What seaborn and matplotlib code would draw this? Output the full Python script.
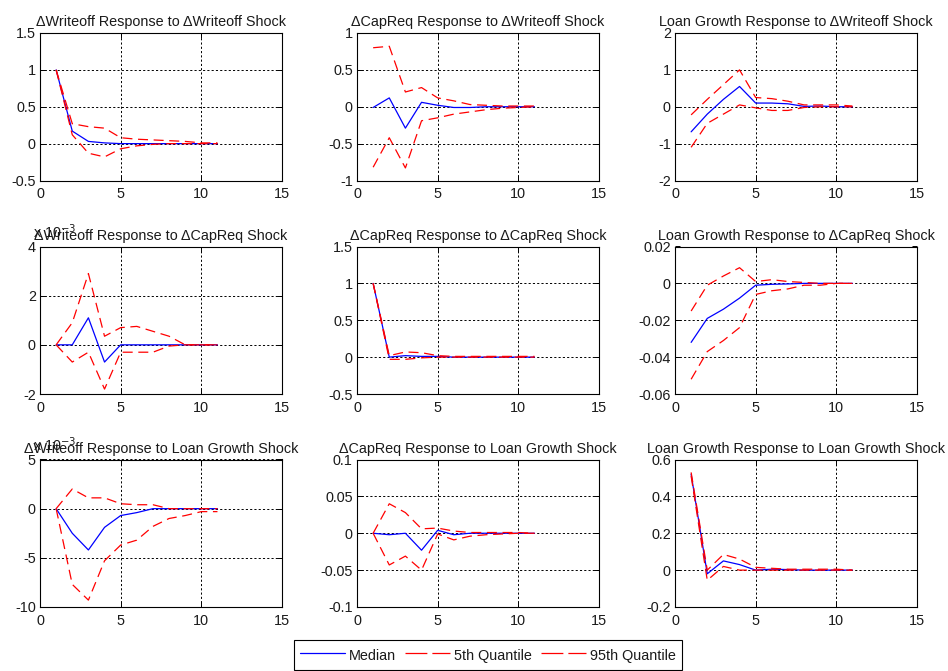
import matplotlib
matplotlib.use("Agg")
import matplotlib.pyplot as plt
from matplotlib.lines import Line2D
from matplotlib.ticker import FuncFormatter, MultipleLocator
import numpy as np
import pandas as pd
import seaborn as sns

# ---------------- data ----------------
periods = [1, 2, 3, 4, 5, 6, 7, 8, 9, 10, 11]

# Row 1: response to ΔWriteoff shock
wo_wo_med = [1.0, 0.17, 0.03, 0.01, 0.0, 0.0, 0.0, 0.0, 0.0, 0.0, 0.0]
wo_wo_lo = [1.0, 0.12, -0.13, -0.18, -0.07, -0.03, -0.01, 0.0, 0.0, 0.0, 0.0]
wo_wo_hi = [1.0, 0.27, 0.23, 0.21, 0.08, 0.06, 0.05, 0.04, 0.03, 0.01, 0.01]

cr_wo_med = [-0.01, 0.12, -0.29, 0.06, 0.02, -0.01, -0.01, 0.0, 0.0, 0.0, 0.0]
cr_wo_lo = [-0.82, -0.42, -0.83, -0.19, -0.15, -0.10, -0.07, -0.04, -0.02, -0.01, 0.0]
cr_wo_hi = [0.80, 0.82, 0.20, 0.26, 0.12, 0.08, 0.03, 0.02, 0.01, 0.01, 0.01]

lg_wo_med = [-0.68, -0.20, 0.20, 0.55, 0.10, 0.10, 0.08, 0.01, 0.02, 0.0, 0.0]
lg_wo_lo = [-1.10, -0.45, -0.20, 0.05, -0.03, -0.10, -0.10, -0.02, 0.0, 0.0, 0.0]
lg_wo_hi = [-0.22, 0.20, 0.60, 1.00, 0.25, 0.22, 0.15, 0.05, 0.05, 0.05, 0.02]

# Row 2: response to ΔCapReq shock
wo_cr_med = [0.0, 0.0, 0.0011, -0.0007, 0.0, 0.0, 0.0, 0.0, 0.0, 0.0, 0.0]
wo_cr_lo = [0.0, -0.0007, -0.0003, -0.0018, -0.0003, -0.0003, -0.0003, -0.00005, 0.0, 0.0, 0.0]
wo_cr_hi = [0.0, 0.0009, 0.0029, 0.00035, 0.0007, 0.00075, 0.00055, 0.00035, 0.0, 0.0, 0.0]

cr_cr_med = [1.0, 0.0, 0.02, 0.01, 0.01, 0.0, 0.0, 0.0, 0.0, 0.0, 0.0]
cr_cr_lo = [1.0, -0.03, -0.03, -0.01, 0.0, 0.0, 0.0, 0.0, 0.0, 0.0, 0.0]
cr_cr_hi = [1.0, 0.02, 0.07, 0.06, 0.02, 0.01, 0.01, 0.01, 0.01, 0.01, 0.01]

lg_cr_med = [-0.032, -0.019, -0.014, -0.008, -0.001, -0.0005, -0.0003, 0.0, 0.0, 0.0, 0.0]
lg_cr_lo = [-0.052, -0.037, -0.031, -0.024, -0.006, -0.004, -0.003, -0.001, -0.001, 0.0, 0.0]
lg_cr_hi = [-0.015, -0.001, 0.004, 0.0085, 0.001, 0.002, 0.001, 0.0005, 0.0, 0.0, 0.0]

# Row 3: response to Loan Growth shock
wo_lg_med = [0.0, -0.0025, -0.0042, -0.0019, -0.0007, -0.0004, 0.0, 0.0, 0.0, 0.0, 0.0]
wo_lg_lo = [0.0, -0.0077, -0.0093, -0.0053, -0.0037, -0.0032, -0.0018, -0.0010, -0.0007, -0.0003, -0.0003]
wo_lg_hi = [0.0, 0.0020, 0.0011, 0.0011, 0.0005, 0.0004, 0.0004, 0.0, 0.0, 0.0, 0.0]

cr_lg_med = [0.0, -0.002, 0.0, -0.023, 0.004, -0.002, 0.0, 0.0, 0.0, 0.0, 0.0]
cr_lg_lo = [0.0, -0.043, -0.031, -0.050, -0.001, -0.009, -0.004, -0.002, -0.001, 0.0, 0.0]
cr_lg_hi = [0.0, 0.040, 0.028, 0.006, 0.007, 0.003, 0.001, 0.001, 0.001, 0.001, 0.0]

lg_lg_med = [0.52, -0.02, 0.05, 0.03, 0.0, 0.005, 0.003, 0.0, 0.0, 0.0, 0.0]
lg_lg_lo = [0.51, -0.055, 0.02, 0.0, 0.0, 0.0, 0.0, 0.0, 0.0, 0.0, 0.0]
lg_lg_hi = [0.53, 0.0, 0.085, 0.06, 0.015, 0.01, 0.005, 0.005, 0.005, 0.005, 0.0]

titles = [
    ["\u0394Writeoff Response to \u0394Writeoff Shock",
     "\u0394CapReq Response to \u0394Writeoff Shock",
     "Loan Growth Response to \u0394Writeoff Shock"],
    ["\u0394Writeoff Response to \u0394CapReq Shock",
     "\u0394CapReq Response to \u0394CapReq Shock",
     "Loan Growth Response to \u0394CapReq Shock"],
    ["\u0394Writeoff Response to Loan Growth Shock",
     "\u0394CapReq Response to Loan Growth Shock",
     "Loan Growth Response to Loan Growth Shock"],
]

series = [
    [(wo_wo_med, wo_wo_lo, wo_wo_hi), (cr_wo_med, cr_wo_lo, cr_wo_hi), (lg_wo_med, lg_wo_lo, lg_wo_hi)],
    [(wo_cr_med, wo_cr_lo, wo_cr_hi), (cr_cr_med, cr_cr_lo, cr_cr_hi), (lg_cr_med, lg_cr_lo, lg_cr_hi)],
    [(wo_lg_med, wo_lg_lo, wo_lg_hi), (cr_lg_med, cr_lg_lo, cr_lg_hi), (lg_lg_med, lg_lg_lo, lg_lg_hi)],
]

# y-axis limits and tick steps
ylims = [
    [(-0.5, 1.5, 0.5), (-1, 1, 0.5), (-2, 2, 1)],
    [(-0.002, 0.004, 0.002), (-0.5, 1.5, 0.5), (-0.06, 0.02, 0.02)],
    [(-0.010, 0.005, 0.005), (-0.1, 0.1, 0.05), (-0.2, 0.6, 0.2)],
]
sci_panels = {(1, 0), (2, 0)}

legend_labels = ["Median", "5th Quantile", "95th Quantile"]

# ---------------- style ----------------
sns.set_style("white")
plt.rcParams["font.family"] = ["Liberation Sans", "DejaVu Sans"]
plt.rcParams["axes.unicode_minus"] = False

FW, FH = 948, 671
fig = plt.figure(figsize=(FW / 100, FH / 100), dpi=100)

lefts = [40, 357, 675]
tops = [33, 246.5, 459.5]
AW, AH = 242, 147.5

dash = (0, (8, 4.5))
leg_dash = (0, (17.5, 4))
lw = 0.9
FS = 10.4
TXT = "#1a1a1a"


def fmt_plain(v, _pos):
    v = round(v, 10) + 0.0
    return "{:g}".format(v)


def fmt_sci(v, _pos):
    v = round(v / 1e-3, 8) + 0.0
    return "{:g}".format(v)


for r in range(3):
    for c in range(3):
        ax = fig.add_axes([lefts[c] / FW, 1 - (tops[r] + AH) / FH, AW / FW, AH / FH])
        med, lo, hi = series[r][c]
        df = pd.DataFrame({"period": periods, "median": med, "lo": lo, "hi": hi})
        sns.lineplot(data=df, x="period", y="median", ax=ax, color="blue", lw=lw, legend=False)
        sns.lineplot(data=df, x="period", y="lo", ax=ax, color="red", lw=lw, linestyle=dash, legend=False)
        sns.lineplot(data=df, x="period", y="hi", ax=ax, color="red", lw=lw, linestyle=dash, legend=False)

        y0, y1, step = ylims[r][c]
        ax.set_xlim(0, 15)
        ax.set_ylim(y0, y1)
        ax.xaxis.set_major_locator(MultipleLocator(5))
        ax.yaxis.set_major_locator(MultipleLocator(step))
        ax.xaxis.set_major_formatter(FuncFormatter(fmt_plain))
        if (r, c) in sci_panels:
            ax.yaxis.set_major_formatter(FuncFormatter(fmt_sci))
            ax.text(-0.03, 1.04, r"x 10$^{-3}$", transform=ax.transAxes,
                    ha="left", va="bottom", fontsize=FS, color=TXT)
        else:
            ax.yaxis.set_major_formatter(FuncFormatter(fmt_plain))

        ax.set_xlabel("")
        ax.set_ylabel("")
        ax.grid(True, color="black", linestyle=(0, (2.2, 2.2)), linewidth=0.7)
        for sp in ax.spines.values():
            sp.set_color("black")
            sp.set_linewidth(0.8)
            sp.set_visible(True)
        ax.tick_params(axis="both", direction="in", length=3.5, width=0.7,
                       top=True, right=True, bottom=True, left=True,
                       labelsize=FS, colors="black", labelcolor=TXT)
        ax.tick_params(axis="y", pad=3)
        ax.tick_params(axis="x", pad=5)
        ax.set_title(titles[r][c], fontsize=FS, pad=5, color=TXT)

handles = [
    Line2D([0], [0], color="blue", lw=lw),
    Line2D([0], [0], color="red", lw=lw, linestyle=leg_dash),
    Line2D([0], [0], color="red", lw=lw, linestyle=leg_dash),
]
leg = fig.legend(handles, legend_labels, loc="lower center", bbox_to_anchor=(0.515, 0.0),
                 ncol=3, frameon=True, fancybox=False, edgecolor="black",
                 fontsize=FS, handlelength=3.1, handleheight=1.6, columnspacing=0.62,
                 handletextpad=0.3, borderpad=0.4, borderaxespad=0.05, framealpha=1)
leg.get_frame().set_linewidth(0.8)
for t in leg.get_texts():
    t.set_color(TXT)

fig.savefig("out.png", dpi=100, facecolor="white")
